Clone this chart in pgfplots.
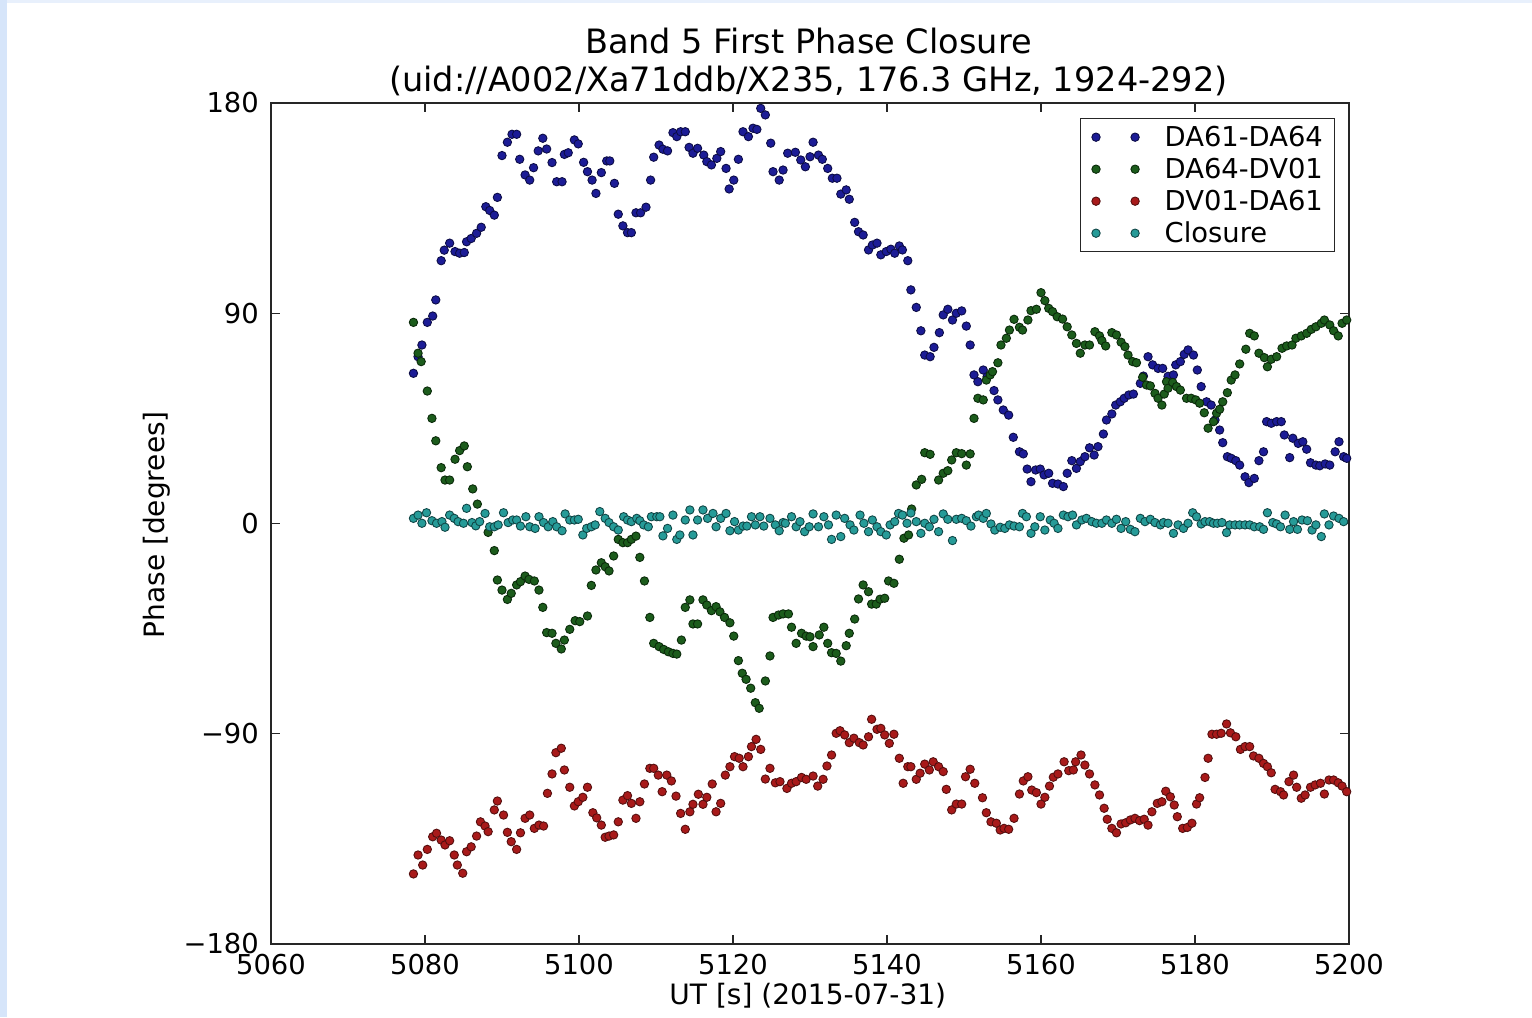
\documentclass[border=0pt]{standalone}
\usepackage{fontspec}
\setmainfont{DejaVu Sans}
\usepackage{pgfplots}
\usepackage{pgfplotstable}
\pgfplotsset{compat=1.18}
\definecolor{bluef}{RGB}{28,28,150}
\definecolor{bluee}{RGB}{12,12,70}
\definecolor{greenf}{RGB}{28,92,28}
\definecolor{greene}{RGB}{10,42,10}
\definecolor{redf}{RGB}{168,26,26}
\definecolor{rede}{RGB}{85,15,15}
\definecolor{cyanf}{RGB}{38,155,152}
\definecolor{cyane}{RGB}{16,70,70}
\definecolor{pageblue}{RGB}{214,229,250}
\definecolor{pageblue2}{RGB}{232,240,252}

\pgfplotstableread{
t y
5078.5 64.3
5079.1 71.4
5079.6 76.4
5080.3 86.1
5081.0 88.8
5081.4 95.7
5082.1 112.5
5082.5 117.0
5083.2 120.0
5083.9 116.4
5084.5 115.7
5085.1 116.0
5085.4 120.6
5086.0 122.0
5086.7 124.2
5087.3 126.8
5087.9 135.6
5088.4 134.0
5089.0 132.0
5089.4 139.6
5090.0 157.5
5090.7 163.2
5091.3 166.6
5091.9 166.6
5092.3 155.9
5093.0 149.2
5093.6 147.0
5094.1 152.3
5094.7 159.5
5095.3 164.9
5095.8 160.3
5096.5 154.5
5097.1 146.3
5097.8 146.3
5098.1 158.0
5098.6 158.7
5099.4 164.2
5099.9 162.5
5100.6 154.6
5101.1 150.6
5101.7 147.0
5102.2 141.3
5102.9 150.2
5103.6 155.2
5104.0 155.2
5104.6 145.6
5105.1 132.4
5105.7 127.4
5106.3 124.5
5106.8 124.5
5107.4 133.0
5108.0 133.0
5108.7 135.4
5109.3 147.0
5109.7 156.8
5110.4 162.0
5110.9 160.2
5111.5 159.5
5112.2 167.3
5112.7 165.6
5113.2 167.7
5113.8 167.7
5114.3 161.0
5114.8 158.5
5115.4 160.6
5116.2 157.7
5116.6 154.9
5117.2 153.5
5117.9 156.3
5118.4 159.2
5119.1 152.0
5119.5 143.2
5120.1 147.0
5120.7 155.9
5121.3 167.7
5122.0 165.6
5122.6 169.2
5123.1 168.7
5123.6 177.7
5124.2 174.9
5124.9 162.8
5125.2 150.6
5126.0 147.0
5126.5 151.3
5127.1 158.5
5128.1 158.9
5128.8 155.6
5129.4 152.7
5130.0 157.0
5130.4 163.2
5131.1 157.7
5131.6 155.9
5132.3 152.0
5132.9 147.8
5133.5 147.8
5134.0 141.0
5134.7 142.8
5135.1 138.8
5135.8 128.9
5136.3 124.9
5136.9 123.5
5137.6 117.1
5138.1 119.2
5138.7 120.0
5139.2 115.0
5139.9 116.4
5140.5 117.4
5141.0 115.7
5141.6 118.8
5142.0 117.1
5142.7 112.5
5143.1 100.0
5143.8 92.5
5144.4 82.5
5144.9 72.1
5145.6 71.4
5146.1 75.4
5146.8 81.7
5147.3 89.3
5147.9 91.7
5148.5 87.1
5149.0 90.0
5149.7 91.0
5150.3 84.5
5150.8 76.4
5151.3 63.6
5151.8 60.7
5152.5 65.7
5153.0 62.8
5153.9 56.9
5154.4 52.9
5155.1 48.6
5155.8 46.4
5156.4 36.9
5157.2 30.7
5157.7 29.8
5158.2 23.3
5158.7 17.9
5159.3 22.9
5159.9 23.3
5160.4 20.8
5161.0 21.5
5161.5 17.2
5162.2 16.9
5162.9 15.8
5163.4 21.5
5164.0 26.9
5164.6 23.6
5165.1 26.5
5165.7 28.6
5166.3 32.4
5166.9 29.3
5167.4 32.9
5168.1 38.3
5168.5 44.3
5169.2 46.9
5169.7 50.7
5170.3 52.1
5170.8 53.6
5171.4 55.0
5172.0 55.4
5172.9 60.0
5173.3 63.1
5173.9 71.4
5174.5 67.9
5175.2 66.4
5175.8 66.4
5176.5 63.0
5177.2 63.6
5177.5 67.9
5178.1 69.3
5178.6 72.4
5179.1 74.3
5179.8 72.1
5180.3 65.7
5180.8 58.6
5181.5 52.1
5182.1 50.7
5182.6 44.3
5183.2 40.0
5183.6 34.6
5184.2 28.6
5184.7 27.9
5185.3 26.9
5185.8 25.0
5186.5 20.0
5187.0 17.5
5187.7 19.3
5188.3 26.9
5188.9 30.7
5189.3 43.6
5189.9 42.9
5190.6 43.6
5191.2 43.6
5191.6 37.9
5192.3 28.2
5192.7 36.5
5193.4 34.3
5194.0 35.0
5194.5 31.8
5195.0 26.0
5195.7 25.0
5196.2 24.7
5196.9 25.5
5197.5 25.0
5198.2 30.7
5198.7 35.0
5199.3 28.6
5199.7 27.9
}\bluedata

\pgfplotstableread{
t y
5078.5 86.1
5079.1 72.9
5079.5 69.3
5080.3 56.7
5080.9 45.0
5081.4 35.4
5082.1 23.9
5082.6 18.6
5083.2 18.6
5083.9 27.5
5084.5 31.2
5085.1 33.2
5085.5 24.3
5086.2 14.8
5086.8 8.3
5088.2 -3.8
5089.0 -11.6
5089.4 -24.2
5090.0 -28.5
5090.7 -32.5
5091.2 -29.9
5091.9 -26.3
5092.4 -24.9
5093.0 -22.5
5093.5 -23.9
5094.2 -24.6
5094.8 -28.5
5095.3 -35.9
5095.8 -46.7
5096.5 -47.0
5097.0 -51.3
5097.7 -53.7
5098.1 -49.9
5098.8 -45.3
5099.5 -41.6
5100.1 -42.0
5101.1 -39.6
5101.6 -26.5
5102.2 -19.9
5102.9 -16.8
5103.4 -18.5
5103.9 -20.3
5104.5 -13.9
5105.1 -6.8
5105.7 -8.2
5106.3 -8.2
5106.8 -6.8
5107.4 -5.4
5107.9 -14.5
5108.5 -24.6
5109.2 -40.2
5109.7 -51.3
5110.4 -52.7
5111.0 -53.9
5111.6 -54.9
5112.2 -55.6
5112.7 -55.9
5113.3 -49.9
5113.8 -35.9
5114.4 -32.7
5114.8 -43.0
5115.4 -43.0
5116.1 -32.7
5116.6 -34.9
5117.2 -37.3
5117.8 -35.6
5118.3 -37.8
5118.9 -40.2
5119.6 -42.5
5120.1 -48.2
5120.7 -58.7
5121.2 -64.1
5121.7 -66.7
5122.3 -70.5
5122.9 -76.7
5123.4 -79.1
5124.2 -67.4
5124.8 -56.7
5125.2 -40.2
5125.9 -39.2
5126.5 -38.7
5127.2 -38.7
5127.6 -44.4
5128.2 -51.3
5128.9 -47.0
5129.5 -48.2
5130.0 -48.5
5130.4 -52.7
5131.2 -47.7
5131.8 -44.4
5132.3 -51.3
5132.8 -55.3
5133.4 -55.6
5134.0 -58.9
5134.7 -52.3
5135.1 -47.0
5135.8 -40.9
5136.3 -32.3
5136.9 -26.3
5137.6 -29.2
5138.0 -34.5
5138.6 -34.5
5139.1 -32.4
5139.7 -32.0
5140.2 -24.6
5140.9 -25.6
5141.6 -15.3
5142.2 -6.3
5142.8 -4.9
5143.2 6.2
5143.8 16.5
5144.5 18.9
5144.9 30.3
5145.6 29.6
5146.7 18.6
5147.3 21.5
5147.9 22.6
5148.4 27.2
5149.0 30.3
5149.7 29.9
5150.3 25.0
5150.8 29.8
5151.3 45.0
5151.8 53.6
5152.5 52.9
5152.9 61.4
5153.4 63.6
5153.7 65.0
5154.4 68.8
5154.8 76.4
5155.5 79.3
5155.9 82.8
5156.5 87.4
5157.2 84.0
5157.6 82.8
5158.3 87.1
5158.7 91.1
5159.4 91.7
5160.0 98.8
5160.5 95.4
5161.0 92.1
5161.5 90.7
5162.1 88.5
5162.8 87.5
5163.4 84.2
5164.0 80.7
5164.6 77.1
5165.1 72.9
5165.7 76.4
5166.3 76.4
5167.0 82.1
5167.6 80.3
5167.9 78.3
5168.4 76.0
5169.2 81.7
5169.8 80.7
5170.4 77.6
5170.9 75.7
5171.3 72.1
5171.9 69.3
5172.4 68.8
5173.2 62.6
5173.7 59.3
5174.2 58.9
5174.8 55.7
5175.2 53.6
5175.7 50.7
5176.0 55.4
5176.3 60.7
5176.5 57.9
5177.1 60.4
5177.6 58.6
5178.1 57.1
5178.9 53.6
5179.5 53.6
5180.1 52.9
5180.6 51.5
5181.2 47.4
5181.7 40.8
5182.4 43.6
5182.8 47.2
5183.2 48.9
5183.6 52.1
5184.2 56.0
5184.7 61.4
5185.2 63.6
5185.8 68.3
5186.6 74.6
5187.1 81.4
5187.7 80.3
5188.3 72.9
5189.0 71.0
5189.4 67.1
5189.9 70.3
5190.6 71.4
5191.3 75.0
5191.9 76.0
5192.6 76.4
5193.1 79.3
5193.8 80.3
5194.5 81.4
5195.1 83.1
5195.7 84.2
5196.4 85.7
5196.8 87.1
5197.5 85.0
5198.0 82.5
5198.6 80.3
5199.1 85.7
5199.7 87.1
}\greendata

\pgfplotstableread{
t y
5078.5 -150.0
5079.1 -141.9
5079.7 -146.2
5080.3 -139.5
5081.0 -134.1
5081.5 -132.6
5082.1 -135.5
5082.6 -137.6
5083.2 -135.8
5083.8 -141.9
5084.2 -146.2
5084.9 -149.7
5085.4 -140.5
5086.0 -138.4
5086.7 -133.8
5087.2 -127.7
5087.8 -129.5
5088.2 -131.9
5089.0 -122.6
5089.4 -118.8
5090.2 -124.8
5090.7 -132.2
5091.2 -136.2
5091.9 -139.5
5092.4 -132.4
5093.0 -126.2
5093.6 -124.8
5094.2 -130.5
5094.8 -129.1
5095.4 -129.5
5095.9 -115.5
5096.5 -107.2
5097.0 -98.1
5097.7 -96.2
5098.1 -105.5
5098.8 -112.9
5099.4 -120.9
5099.9 -119.1
5100.5 -117.2
5101.1 -112.9
5101.8 -123.8
5102.3 -126.0
5102.9 -129.1
5103.4 -134.3
5103.9 -133.8
5104.5 -133.3
5105.1 -127.7
5105.7 -118.4
5106.3 -116.5
5106.8 -119.8
5107.4 -126.2
5107.9 -119.1
5108.5 -111.5
5109.2 -104.8
5109.7 -104.8
5110.3 -107.7
5110.8 -114.8
5111.4 -107.7
5112.0 -110.2
5112.6 -116.7
5113.2 -124.1
5113.8 -130.9
5114.4 -123.4
5114.8 -120.2
5115.5 -115.9
5116.1 -120.2
5116.6 -117.2
5117.3 -111.5
5117.8 -123.4
5118.4 -119.8
5119.0 -107.7
5119.6 -104.1
5120.2 -99.8
5120.8 -100.5
5121.3 -104.1
5122.0 -99.8
5122.4 -95.5
5123.0 -92.4
5123.6 -96.7
5124.2 -109.4
5124.8 -104.8
5125.5 -111.0
5126.1 -110.5
5127.0 -113.4
5127.6 -111.2
5128.2 -110.5
5128.9 -108.7
5129.5 -109.5
5130.4 -108.1
5131.0 -112.4
5131.7 -109.5
5132.2 -103.8
5132.8 -99.1
5133.4 -89.8
5133.9 -88.7
5134.5 -90.5
5135.1 -93.8
5135.7 -91.9
5136.4 -93.8
5136.9 -94.8
5137.6 -91.3
5138.0 -83.8
5138.7 -88.1
5139.2 -87.7
5139.7 -90.5
5140.3 -94.1
5140.9 -90.2
5141.6 -100.5
5142.1 -111.2
5142.7 -104.1
5143.1 -104.1
5143.8 -109.5
5144.3 -106.9
5144.9 -103.0
5145.5 -105.5
5146.0 -102.0
5146.7 -104.1
5147.3 -106.2
5147.7 -113.8
5148.4 -122.6
5149.0 -120.1
5149.7 -120.1
5150.2 -108.4
5150.8 -105.2
5151.4 -111.2
5152.4 -117.4
5152.9 -123.8
5153.5 -127.7
5154.2 -128.3
5154.7 -131.2
5155.2 -130.5
5155.8 -130.9
5156.5 -126.2
5157.2 -115.8
5157.7 -110.2
5158.3 -108.4
5158.8 -114.1
5159.4 -115.2
5160.0 -120.1
5160.5 -117.2
5161.1 -112.4
5161.6 -108.6
5162.2 -107.2
5163.0 -102.0
5163.6 -105.8
5164.2 -105.5
5164.5 -102.0
5165.2 -99.1
5165.7 -103.4
5166.3 -107.2
5167.0 -111.9
5167.6 -116.2
5168.2 -121.9
5168.6 -126.6
5169.2 -130.5
5169.8 -132.4
5170.4 -128.6
5171.0 -128.1
5171.6 -126.9
5172.2 -126.2
5172.8 -127.2
5173.4 -126.6
5173.9 -129.1
5174.4 -123.4
5175.1 -119.8
5175.7 -119.1
5176.2 -114.6
5176.8 -117.0
5177.3 -120.5
5177.7 -125.5
5178.4 -130.5
5179.0 -130.1
5179.6 -128.3
5180.2 -120.1
5180.6 -117.4
5181.3 -108.7
5181.7 -100.5
5182.2 -90.2
5182.8 -90.2
5183.4 -89.8
5184.1 -85.8
5184.6 -89.6
5185.3 -91.3
5185.9 -96.7
5186.5 -95.5
5187.1 -95.5
5187.6 -99.5
5188.3 -100.5
5188.9 -102.7
5189.4 -104.1
5189.9 -106.7
5190.4 -113.8
5191.1 -114.8
5191.5 -116.2
5192.2 -110.5
5192.8 -107.7
5193.2 -112.9
5193.8 -117.6
5194.3 -116.2
5195.0 -112.9
5195.6 -111.9
5196.3 -111.2
5196.8 -115.8
5197.4 -109.8
5198.0 -109.8
5198.6 -111.0
5199.1 -112.4
5199.7 -114.8
}\reddata

\pgfplotstableread{
t y
5078.5 2.2
5079.1 3.6
5079.6 0.1
5080.2 4.6
5080.9 1.2
5081.5 0.1
5082.2 0.8
5082.6 -1.6
5083.2 3.6
5083.8 2.2
5084.3 0.8
5085.0 0.1
5085.4 6.5
5086.1 0.4
5086.6 -1.0
5087.1 0.8
5087.8 4.3
5088.4 -1.4
5089.0 -1.4
5089.5 -0.6
5090.2 4.6
5090.8 0.4
5091.4 1.5
5091.9 1.5
5092.4 -1.1
5093.1 2.9
5093.6 -1.4
5094.3 -2.1
5094.8 2.9
5095.4 0.4
5096.0 -1.4
5096.6 0.8
5097.1 -1.4
5097.8 -3.1
5098.2 4.1
5098.8 1.5
5099.4 1.5
5099.9 1.8
5100.5 -4.9
5101.0 -2.1
5101.6 -1.4
5102.1 -0.6
5102.7 5.1
5103.4 2.2
5103.9 0.4
5104.5 -1.4
5105.1 -2.8
5105.8 2.9
5106.3 1.5
5106.8 0.8
5107.5 2.2
5107.9 1.2
5108.4 -0.6
5109.0 -1.4
5109.4 2.9
5110.1 2.9
5110.5 2.9
5110.9 -5.3
5111.5 -2.1
5112.2 3.6
5112.7 -6.8
5113.1 -4.9
5113.8 1.5
5114.4 5.8
5114.8 -4.9
5115.4 1.5
5116.1 5.8
5116.7 2.2
5117.4 4.3
5117.8 -1.4
5118.4 2.2
5119.1 4.3
5119.6 -3.1
5120.2 0.8
5120.7 -2.8
5121.3 -1.1
5121.8 -1.1
5122.4 2.9
5122.9 -0.6
5123.5 2.9
5124.0 -1.1
5124.8 2.2
5125.5 -0.6
5126.0 -3.1
5126.5 0.4
5126.8 0.1
5127.6 2.9
5128.2 -1.4
5128.7 0.8
5129.3 -3.5
5129.9 -1.4
5130.4 4.1
5131.1 -1.4
5131.8 2.9
5132.4 -0.6
5132.8 -6.8
5133.4 3.6
5134.0 -5.6
5134.5 2.2
5135.2 -0.6
5135.7 -2.8
5136.5 3.6
5137.0 0.1
5137.6 -3.5
5138.1 1.5
5138.7 -1.4
5139.2 -3.5
5139.9 -4.9
5140.4 -0.6
5141.0 0.8
5141.5 4.3
5142.0 3.6
5142.6 0.1
5143.1 4.5
5143.8 0.8
5144.4 -4.2
5144.9 0.1
5145.5 -1.4
5146.1 1.8
5146.7 -3.5
5147.3 4.1
5147.9 1.8
5148.5 -7.3
5149.0 1.8
5149.7 2.2
5150.3 1.2
5150.9 -1.1
5151.6 2.9
5151.9 3.6
5152.5 2.2
5152.9 4.3
5153.5 -0.2
5154.0 -2.8
5154.7 -1.6
5155.3 -2.1
5155.9 -0.6
5156.5 -1.1
5157.2 -1.4
5157.6 4.3
5158.1 2.9
5158.7 -4.2
5159.2 -1.4
5159.9 2.9
5160.5 -2.8
5161.2 1.5
5161.7 0.1
5162.2 -2.1
5162.9 3.6
5163.5 2.9
5164.1 3.6
5164.6 -0.6
5165.3 1.5
5165.9 2.2
5166.6 0.8
5167.2 0.1
5167.9 0.1
5168.5 1.5
5169.2 0.1
5169.8 1.8
5170.4 -2.1
5171.0 0.8
5171.6 -2.5
5172.2 -3.5
5172.9 2.2
5173.5 0.8
5174.2 1.8
5174.8 0.4
5175.5 -0.6
5175.9 0.4
5176.5 0.1
5177.2 -4.2
5177.8 -0.6
5178.5 -2.1
5179.1 0.1
5179.7 4.6
5180.2 2.9
5180.8 -0.2
5181.3 0.8
5181.9 0.8
5182.4 0.1
5182.9 0.1
5183.5 0.4
5184.1 -3.9
5184.5 -0.6
5185.2 -0.6
5185.8 -0.6
5186.5 -0.6
5187.1 -0.6
5187.7 -1.4
5188.4 -1.4
5188.9 -2.5
5189.4 4.6
5190.1 0.4
5190.6 -0.2
5191.1 -1.4
5191.7 3.6
5192.3 -2.5
5192.8 0.8
5193.3 -2.5
5193.9 1.5
5194.6 1.2
5195.2 -2.8
5195.7 -0.6
5196.4 -5.6
5196.8 4.1
5197.4 -0.6
5198.0 3.2
5198.7 2.2
5199.3 0.8
}\closuredata

\begin{document}
\begin{tikzpicture}
\path[use as bounding box] (-122.763pt,-33.069pt) rectangle (571.233pt,427.632pt);
\fill[pageblue] (-122.763pt,-33.069pt) rectangle (-119.5pt,427.632pt);
\fill[pageblue2] (-119.5pt,426.4pt) rectangle (571.233pt,427.632pt);
\begin{axis}[
  at={(0pt,0pt)}, anchor=south west,
  scale only axis, width=488.334pt, height=380.973pt,
  xmin=5060, xmax=5200, ymin=-180, ymax=180,
  xtick={5060,5080,5100,5120,5140,5160,5180,5200},
  ytick={-180,-90,0,90,180},
  yticklabels={−180,−90,0,90,180},
  tick align=inside, major tick length=4pt,
  axis line style={line width=0.6pt, black!85},
  every tick/.style={black!85, line width=0.5pt},
  tick label style={font=\fontsize{12.4}{14}\selectfont},
  xticklabel style={yshift=-1pt, /pgf/number format/assume math mode=true, /pgf/number format/set thousands separator={}},
  yticklabel style={xshift=-2pt},
  label style={font=\fontsize{12.7}{14}\selectfont},
  xlabel={UT [s] (2015-07-31)},
  ylabel={Phase [degrees]},
  xlabel style={at={(axis description cs:0.498,-0.0615)}, anchor=center},
  ylabel style={at={(axis description cs:-0.1058,0.4985)}, anchor=center, rotate=0},
  title={Band 5 First Phase Closure\\(uid://A002/Xa71ddb/X235, 176.3 GHz, 1924-292)},
  title style={font=\fontsize{15.2}{17.2}\selectfont, align=center, at={(axis description cs:0.4985,1.0325)}, anchor=center},
  legend style={at={(axis description cs:0.987,0.9822)}, anchor=north east, draw=black!85, line width=0.6pt, fill=white,
    font=\fontsize{12.4}{13}\selectfont, inner xsep=5.2pt, inner ysep=3pt, row sep=3.7pt, column sep=11.5pt,
    nodes={inner sep=0pt, text height=9.6pt, text depth=1.2pt}},
  legend cell align=left,
  legend image code/.code={\draw[#1] plot coordinates {(0pt,0pt) (17.7pt,0pt)};},
]
\addplot[only marks, mark=*, mark size=1.9pt, mark options={draw=bluee, fill=bluef, line width=0.4pt}] table[x=t,y=y] {\bluedata};
\addlegendentry{DA61-DA64}
\addplot[only marks, mark=*, mark size=1.9pt, mark options={draw=greene, fill=greenf, line width=0.4pt}] table[x=t,y=y] {\greendata};
\addlegendentry{DA64-DV01}
\addplot[only marks, mark=*, mark size=1.9pt, mark options={draw=rede, fill=redf, line width=0.4pt}] table[x=t,y=y] {\reddata};
\addlegendentry{DV01-DA61}
\addplot[only marks, mark=*, mark size=1.9pt, mark options={draw=cyane, fill=cyanf, line width=0.4pt}] table[x=t,y=y] {\closuredata};
\addlegendentry{Closure}
\end{axis}
\end{tikzpicture}
\end{document}
